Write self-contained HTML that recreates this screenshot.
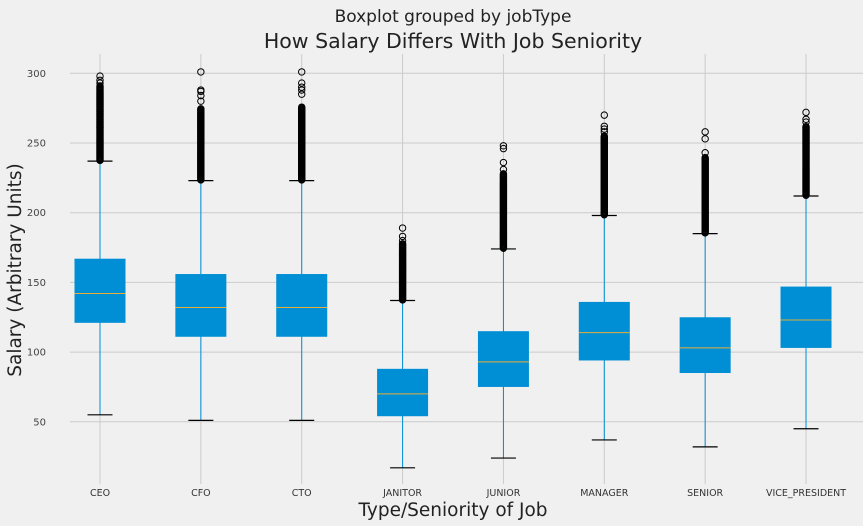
<!DOCTYPE html>
<html><head><meta charset="utf-8"><style>
body{margin:0;background:#f0f0f0;}
svg{display:block;font-family:"DejaVu Sans","Liberation Sans",sans-serif;}
</style></head><body>
<svg id="c" width="863" height="526">
<rect width="863" height="526" fill="#f0f0f0"/>
<text x="453" y="22" font-size="17" text-anchor="middle" fill="#222">Boxplot grouped by jobType</text>
<text x="453" y="48" font-size="20.5" text-anchor="middle" fill="#222">How Salary Differs With Job Seniority</text>
<text x="453" y="516" font-size="18.5" text-anchor="middle" fill="#222">Type/Seniority of Job</text>
<text transform="translate(21,270) rotate(-90)" font-size="18.5" text-anchor="middle" fill="#222">Salary (Arbitrary Units)</text>
<g id="grid"></g><g id="marks"></g>
</svg>
<script>
const categories=["CEO","CFO","CTO","JANITOR","JUNIOR","MANAGER","SENIOR","VICE_PRESIDENT"];
const whiskerLow=[55,51,51,17,24,37,32,45];
const q1=[121,111,111,54,75,94,85,103];
const median=[142,132,132,70,93,114,103,123];
const q3=[167,156,156,88,115,136,125,147];
const whiskerHigh=[237,223,223,137,174,198,185,212];
const denseTop=[291,275,276,178,228,255,240,262];
const extraOutliers=[[293,295,298],[280,284,287,288,301],[285,288,290,293,301],[180,183,189],[231,236,246,248],[258,260,262,270],[243,253,258],[265,267,272]];
const yTicks=[50,100,150,200,250,300];
const NS="http://www.w3.org/2000/svg";
const X0=100,DX=100.86;
function xs(i){return X0+i*DX;}
function ys(v){return 73.3+(300-v)*1.394;}
const grid=document.getElementById('grid'),marks=document.getElementById('marks');
function mk(p,tag,a){const e=document.createElementNS(NS,tag);for(const k in a)e.setAttribute(k,a[k]);p.appendChild(e);return e;}
yTicks.forEach(t=>{
 const l=mk(grid,'line',{x1:70,x2:863,y1:ys(t),y2:ys(t),stroke:'#cbcbcb','stroke-width':1});
 
 
 const tx=mk(grid,'text',{x:46,y:ys(t)+3.5,'font-size':10,'text-anchor':'end',fill:'#444'});tx.textContent=t;
 
 
});
categories.forEach((c,i)=>{
 const x=xs(i);
 const l=mk(grid,'line',{x1:x,x2:x,y1:54,y2:484,stroke:'#cbcbcb','stroke-width':1});
 
 
 const tx=mk(grid,'text',{x:x,y:496,'font-size':9.5,'text-anchor':'middle',fill:'#333'});tx.textContent=c;
 
 
 const g=mk(marks,'g',{});
 
 
 mk(g,'line',{x1:x,x2:x,y1:ys(whiskerLow[i]),y2:ys(whiskerHigh[i]),stroke:'#008fd5','stroke-width':1});
 mk(g,'rect',{x:x-25.5,y:ys(q3[i]),width:51,height:ys(q1[i])-ys(q3[i]),fill:'#008fd5'});
 mk(g,'line',{x1:x-25.5,x2:x+25.5,y1:ys(median[i]),y2:ys(median[i]),stroke:'#e5ae38','stroke-width':1});
 mk(g,'line',{x1:x-12.5,x2:x+12.5,y1:ys(whiskerLow[i]),y2:ys(whiskerLow[i]),stroke:'#000','stroke-width':1.2});
 mk(g,'line',{x1:x-12.5,x2:x+12.5,y1:ys(whiskerHigh[i]),y2:ys(whiskerHigh[i]),stroke:'#000','stroke-width':1.2});
 const og=mk(g,'g',{fill:'none',stroke:'#000','stroke-width':1});
 
 
 for(let v=whiskerHigh[i]+0.5;v<=denseTop[i];v+=0.6)mk(og,'circle',{cx:x,cy:ys(v),r:3.2});
 extraOutliers[i].forEach(v=>mk(og,'circle',{cx:x,cy:ys(v),r:3.2}));
});
</script>
</body></html>
